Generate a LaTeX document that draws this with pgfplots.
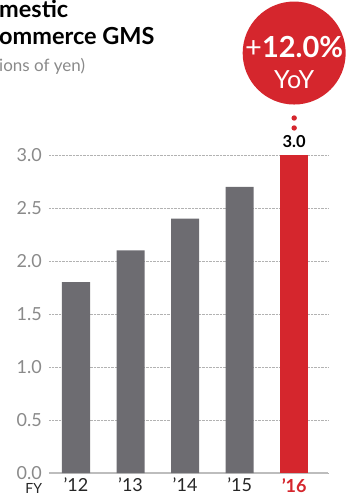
\documentclass[border=0pt]{standalone}
\usepackage{pgfplots}
\pgfplotsset{compat=1.18}
\usepackage{fontspec}
\setmainfont{Lato}
\definecolor{barg}{HTML}{6D6C71}
\definecolor{barr}{HTML}{D5262D}
\definecolor{tickg}{HTML}{8A8A8A}
\definecolor{axg}{HTML}{BDBDBD}
\begin{document}
\begin{tikzpicture}[x=1pt,y=1pt]
\path[use as bounding box] (0,0) rectangle (349,496);
\node[anchor=base west, inner sep=0pt, font=\fontsize{23.5}{23.5}\selectfont\bfseries] at (-1,478) {mestic};
\node[anchor=base west, inner sep=0pt, font=\fontsize{23.5}{23.5}\selectfont\bfseries] at (-1,451) {ommerce GMS};
\node[anchor=base west, inner sep=0pt, font=\fontsize{17}{17}\selectfont, text=tickg] at (-1,424) {ions of yen)};
\begin{axis}[
  at={(49pt,23pt)}, anchor=south west,
  scale only axis, width=279pt, height=318pt,
  xmin=-0.495, xmax=4.62, ymin=0, ymax=3.0,
  clip=false,
  axis x line*=bottom, axis y line*=left,
  y axis line style={draw=none},
  x axis line style={draw=axg, line width=1.2pt, -},
  major tick length=0pt,
  ymajorgrids, grid style={densely dotted, gray!60, line width=0.5pt},
  ytick={0,0.5,1,1.5,2,2.5,3},
  xtick={0,1,2,3,4},
  xticklabels={’12,’13,’14,’15,{\textbf{\color{barr}’16}}},
  /pgf/number format/assume math mode=true,
  /pgf/number format/fixed, /pgf/number format/fixed zerofill, /pgf/number format/precision=1,
  yticklabel style={font=\fontsize{18}{18}\selectfont, text=tickg, anchor=east, inner sep=0pt, xshift=-7pt},
  xticklabel style={font=\fontsize{18}{18}\selectfont, text=black!85, anchor=north, inner sep=0pt, yshift=-5pt},
]
\addplot[ybar, bar shift=0pt, bar width=28pt, fill=barg, draw=none] coordinates {(0,1.8) (1,2.1) (2,2.4) (3,2.7)};
\addplot[ybar, bar shift=0pt, bar width=28pt, fill=barr, draw=none,
  nodes near coords,
  every node near coord/.append style={font=\fontsize{16.5}{16.5}\selectfont\bfseries, text=black, anchor=base, inner sep=0pt, yshift=7pt}]
  coordinates {(4,3.0)};
\fill[barr] (axis cs:4,3.962) circle[radius=51.5pt];
\node[anchor=base, inner sep=0pt, text=white, font=\fontsize{29}{29}\selectfont] at (axis cs:4,3.924) {+\textbf{12.0\%}};
\node[anchor=base, inner sep=0pt, text=white, font=\fontsize{25}{25}\selectfont] at (axis cs:4,3.632) {YoY};
\fill[barr] (axis cs:4,3.349) circle[radius=2.7pt];
\fill[barr] (axis cs:4,3.255) circle[radius=2.7pt];
\node[anchor=base west, inner sep=0pt, font=\fontsize{14}{14}\selectfont, text=black!85] at (axis cs:-0.93,-0.19) {FY};
\end{axis}
\end{tikzpicture}
\end{document}
